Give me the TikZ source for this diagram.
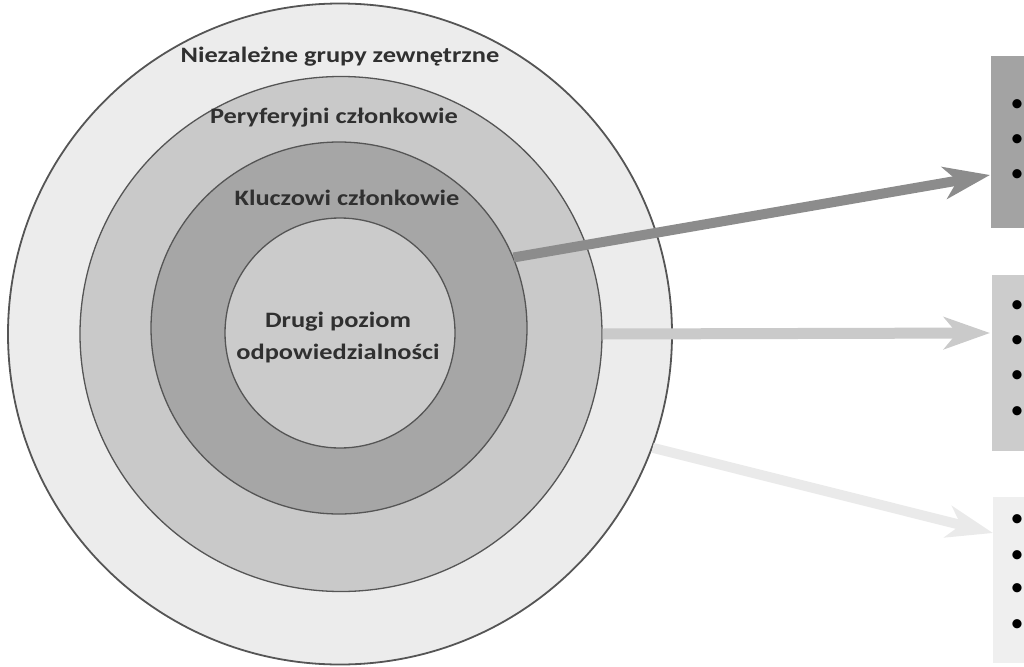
\documentclass[tikz,border=0pt]{standalone}
\usepackage{fontspec}
\setmainfont{Carlito}
\newfontfamily\lbl{Carlito}[FakeStretch=1.2]
\usetikzlibrary{shapes.geometric,arrows.meta}
\definecolor{rA}{HTML}{ECECEC}
\definecolor{rB}{HTML}{C9C9C9}
\definecolor{rC}{HTML}{A6A6A6}
\definecolor{rD}{HTML}{CBCBCB}
\definecolor{ringline}{HTML}{555555}
\definecolor{txt}{HTML}{303030}
\definecolor{bA}{HTML}{A3A3A3}
\definecolor{bB}{HTML}{CCCCCC}
\definecolor{bC}{HTML}{EFEFEF}
\definecolor{aA}{HTML}{8C8C8C}
\definecolor{aB}{HTML}{CACACA}
\definecolor{aC}{HTML}{EAEAEA}
\begin{document}
\begin{tikzpicture}[x=1pt,y=-1pt,
  ring/.style={ellipse, draw=ringline, line width=1.3pt, inner sep=0pt},
  lbltext/.style={font=\lbl\bfseries\fontsize{22}{32}\selectfont, text=txt, align=center, inner sep=0pt},
  panel/.style={draw=none, inner sep=0pt, anchor=north west, minimum width=40pt},
  bul/.style={font=\fontsize{26}{26}\selectfont, text=black, inner sep=0pt},
  arrowline/.style={line width=#1, -{Stealth[length=46pt, width=32pt, inset=13pt]}}
]
\useasboundingbox (0,0) rectangle (1024,666);
% rings
\node[ring, fill=rA, line width=1.8pt, minimum width=664pt, minimum height=661pt] (c1) at (340,334) {};
\node[ring, fill=rB, minimum width=522pt, minimum height=515pt] (c2) at (341,334) {};
\node[ring, fill=rC, minimum width=376pt, minimum height=372pt] (c3) at (339,328) {};
\node[ring, fill=rD, minimum width=230pt, minimum height=230pt] (c4) at (340,333) {};
% labels
\node[lbltext] (l1) at (340,57) {Niezależne grupy zewnętrzne};
\node[lbltext] (l2) at (334,118) {Peryferyjni członkowie};
\node[lbltext] (l3) at (347,198) {Kluczowi członkowie};
\node[lbltext] (l4) at (338,338) {Drugi poziom\\odpowiedzialności};
% panels
\node[panel, fill=bA, minimum height=172pt] (p1) at (991,56) {};
\node[panel, fill=bB, minimum height=176pt] (p2) at (992,275) {};
\node[panel, fill=bC, minimum height=166pt] (p3) at (993,497) {};
% bullets
\foreach \y [count=\i] in {106,141,176} \node[bul] (ba\i) at (1017,\y) {•};
\foreach \y [count=\i] in {307,342,377,413} \node[bul] (bb\i) at (1017,\y) {•};
\foreach \y [count=\i] in {521,557,590,626} \node[bul] (bc\i) at (1017,\y) {•};
% arrow ends
\coordinate (e1) at (990,175);
\coordinate (e2) at (990,333);
\coordinate (e3) at (993,533);
% arrows
\draw[arrowline=10pt, draw=aA, fill=aA] (c3.22) -- (e1);
\draw[arrowline=11pt, draw=aB, fill=aB] (c2.east) -- (e2);
\draw[arrowline=10pt, draw=aC, fill=aC] (c1.-20) -- (e3);
\end{tikzpicture}
\end{document}
